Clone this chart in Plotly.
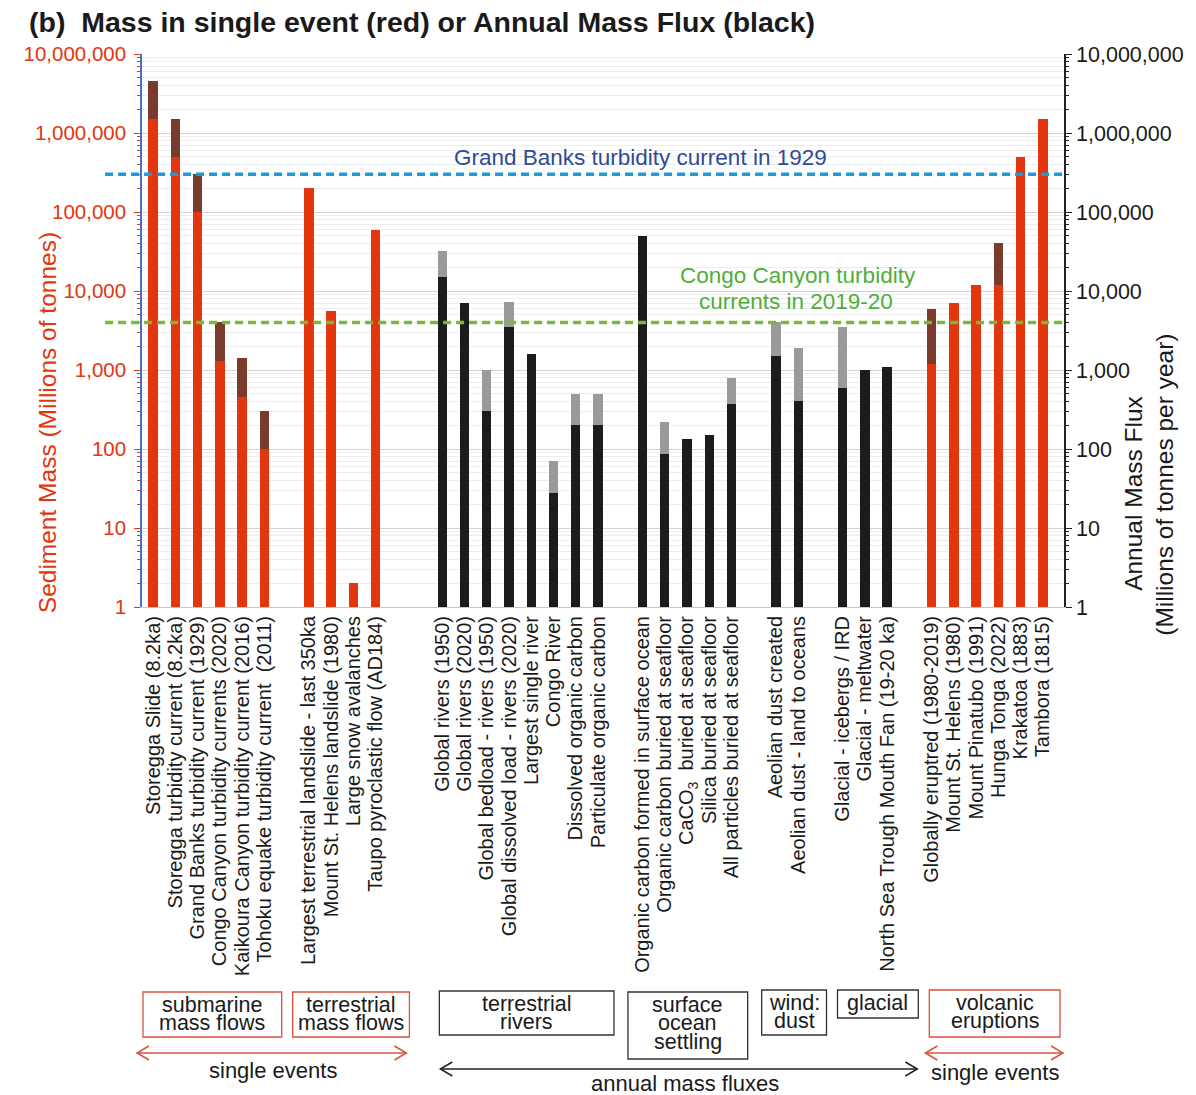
import plotly.graph_objects as go

# ---- data (millions of tonnes, or millions of tonnes per year) ----
submarine_labels = ["Storegga Slide (8.2ka)", "Storegga turbidity current (8.2ka)",
                    "Grand Banks turbidity current (1929)", "Congo Canyon turbidity currents (2020)",
                    "Kaikoura Canyon turbidity current (2016)", "Tohoku equake turbidity current  (2011)"]
submarine_low = [1.5e6, 5.0e5, 1.0e5, 1300, 450, 100]
submarine_high = [4.5e6, 1.5e6, 3.0e5, 4000, 1400, 300]

terrestrial_labels = ["Largest terrestrial landslide - last 350ka", "Mount St. Helens landslide (1980)",
                      "Large snow avalanches", "Taupo pyroclastic flow (AD184)"]
terrestrial_low = [2.0e5, 5600, 2, 6.0e4]
terrestrial_high = [2.0e5, 5600, 2, 6.0e4]

river_labels = ["Global rivers (1950)", "Global rivers (2020)", "Global bedload - rivers (1950)",
                "Global dissolved load - rivers (2020)", "Largest single river", "Congo River",
                "Dissolved organic carbon", "Particulate organic carbon"]
river_low = [15000, 7000, 300, 3500, 1600, 28, 200, 200]
river_high = [32000, 7000, 1000, 7200, 1600, 70, 500, 500]

ocean_labels = ["Organic carbon formed in surface ocean", "Organic carbon buried at seafloor",
                "CaCO<sub>3</sub>  buried at seafloor", "Silica buried at seafloor",
                "All particles buried at seafloor"]
ocean_low = [50000, 87, 135, 150, 370]
ocean_high = [50000, 220, 135, 150, 790]

dust_labels = ["Aeolian dust created", "Aeolian dust - land to oceans"]
dust_low = [1500, 400]
dust_high = [4000, 1900]

glacial_labels = ["Glacial - icebergs / IRD", "Glacial - meltwater", "North Sea Trough Mouth Fan (19-20 ka)"]
glacial_low = [600, 1000, 1100]
glacial_high = [3500, 1000, 1100]

volcanic_labels = ["Globally eruptred (1980-2019)", "Mount St. Helens (1980)", "Mount Pinatubo (1991)",
                   "Hunga Tonga (2022)", "Krakatoa (1883)", "Tambora (1815)"]
volcanic_low = [1200, 7000, 12000, 12000, 5.0e5, 1.5e6]
volcanic_high = [6000, 7000, 12000, 40000, 5.0e5, 1.5e6]

grand_banks_1929 = 3.0e5
congo_canyon_2019_20 = 4000

# groups in display order: (labels, low, high, kind, empty slots before next group)
groups = [
    (submarine_labels, submarine_low, submarine_high, "event", 1),
    (terrestrial_labels, terrestrial_low, terrestrial_high, "event", 2),
    (river_labels, river_low, river_high, "flux", 1),
    (ocean_labels, ocean_low, ocean_high, "flux", 1),
    (dust_labels, dust_low, dust_high, "flux", 1),
    (glacial_labels, glacial_low, glacial_high, "flux", 1),
    (volcanic_labels, volcanic_low, volcanic_high, "event", 0),
]

RED = "#e3360f"
BROWN = "#7a3a2c"
BLACK = "#1c1c1c"
GREY = "#9a9a9a"
BOXRED = "#d9533f"
FONT = "Liberation Sans, Arial, sans-serif"

pos, ticktext = [], []
ev_x, ev_lo, ev_hi, fx_x, fx_lo, fx_hi = [], [], [], [], [], []
i = 0
for labels, lo, hi, kind, gap in groups:
    for lab, a, b in zip(labels, lo, hi):
        pos.append(i)
        ticktext.append(lab)
        if kind == "event":
            ev_x.append(i); ev_lo.append(a); ev_hi.append(b)
        else:
            fx_x.append(i); fx_lo.append(a); fx_hi.append(b)
        i += 1
    i += gap

W, H = 1196, 1095
L, R, T, B = 142, 130, 54, 488
PW, PH = W - L - R, H - T - B


def px(x):
    return (x - L) / PW


def py(y):
    return (T + PH - y) / PH


BW = 0.42
fig = go.Figure()
fig.add_trace(go.Bar(x=ev_x, y=ev_hi, marker_color=BROWN, width=BW, yaxis="y", showlegend=False))
fig.add_trace(go.Bar(x=ev_x, y=ev_lo, marker_color=RED, width=BW, yaxis="y", showlegend=False))
fig.add_trace(go.Bar(x=fx_x, y=fx_hi, marker_color=GREY, width=BW, yaxis="y2", showlegend=False))
fig.add_trace(go.Bar(x=fx_x, y=fx_lo, marker_color=BLACK, width=BW, yaxis="y2", showlegend=False))

for t in fig.data:
    t.marker.line.width = 0

shapes = []
# reference levels
shapes.append(dict(type="line", xref="paper", yref="y", x0=px(105), x1=1, y0=grand_banks_1929,
                   y1=grand_banks_1929, line=dict(color="#1f9ad6", width=3.5, dash="8px,5px")))
shapes.append(dict(type="line", xref="paper", yref="y", x0=px(105), x1=1, y0=congo_canyon_2019_20,
                   y1=congo_canyon_2019_20, line=dict(color="#7ab83a", width=3.5, dash="8px,5px")))

annotations = []


def text(x, y, s, size, color="#1a1a1a", **kw):
    annotations.append(dict(xref="paper", yref="paper", x=px(x), y=py(y), text=s, showarrow=False,
                            font=dict(family=FONT, size=size, color=color),
                            xanchor=kw.pop("xanchor", "center"), yanchor=kw.pop("yanchor", "middle"), **kw))


text(27, 22, "<b>(b)\u00a0\u00a0Mass in single event (red) or Annual Mass Flux (black)</b>", 28.5,
     xanchor="left")
text(642, 157, "Grand Banks turbidity current in 1929", 22.5, color="#2f4a96")
text(799, 275, "Congo Canyon turbidity", 22.5, color="#4fae3a")
text(797, 301, "currents in 2019-20", 22.5, color="#4fae3a")
text(48, 423, "Sediment Mass (Millions of tonnes)", 24.5, color=RED, textangle=-90)
text(1136, 493, "Annual Mass Flux", 24.5, textangle=-90)
text(1166, 485, "(Millions of tonnes per year)", 24.5, textangle=-90)

# category boxes beneath the labels
boxes = [
    (143, 282, 992, 1037, BOXRED, ["submarine", "mass flows"]),
    (293, 410, 992, 1037, BOXRED, ["terrestrial", "mass flows"]),
    (440, 615, 991, 1035, "#333333", ["terrestrial", "rivers"]),
    (629, 749, 992, 1059, "#333333", ["surface", "ocean", "settling"]),
    (763, 828, 990, 1035, "#333333", ["wind:", "dust"]),
    (839, 920, 990, 1018, "#333333", ["glacial"]),
    (931, 1062, 990, 1037, BOXRED, ["volcanic", "eruptions"]),
]
for x0, x1, y0, y1, col, lines in boxes:
    shapes.append(dict(type="rect", xref="paper", yref="paper", x0=px(x0), x1=px(x1), y0=py(y0), y1=py(y1),
                       line=dict(color=col, width=1.3)))
    cx = (x0 + x1) / 2
    for k, s in enumerate(lines):
        text(cx, y0 + 12.5 + 18.8 * k, s, 21.5)


def arrow(x0, x1, y, col):
    shapes.append(dict(type="line", xref="paper", yref="paper", x0=px(x0), x1=px(x1), y0=py(y), y1=py(y),
                       line=dict(color=col, width=1.5)))
    for tip, d in ((x0, 1), (x1, -1)):
        path = "M {} {} L {} {} L {} {}".format(px(tip + 12 * d), py(y - 7), px(tip), py(y),
                                                 px(tip + 12 * d), py(y + 7))
        shapes.append(dict(type="path", xref="paper", yref="paper", path=path,
                           line=dict(color=col, width=1.5)))


arrow(137, 407, 1053, BOXRED)
arrow(441, 919, 1069, "#222222")
arrow(927, 1065, 1053, BOXRED)
text(273, 1070, "single events", 22)
text(686, 1083, "annual mass fluxes", 22)
text(997, 1072, "single events", 22)

axis_common = dict(type="log", range=[0, 7], dtick=1, exponentformat="none", separatethousands=True,
                   showgrid=True, gridcolor="#d2d2d2", gridwidth=1, zeroline=False,
                   ticks="outside", ticklen=6, showline=True, linewidth=1.5,
                   minor=dict(dtick="D1", showgrid=True, gridcolor="#ededed", ticks="outside", ticklen=3))

fig.update_layout(
    width=W, height=H,
    margin=dict(l=L, r=R, t=T, b=B, pad=0),
    paper_bgcolor="white", plot_bgcolor="white",
    barmode="overlay", bargap=0,
    font=dict(family=FONT, color="#1a1a1a"),
    showlegend=False,
    xaxis=dict(range=[-0.5, 40.95], tickmode="array", tickvals=pos, ticktext=ticktext, tickangle=-90,
               tickfont=dict(size=20, color="#1a1a1a"), showgrid=False, zeroline=False, ticks="",
               showline=True, linecolor="#c8c8c8", linewidth=1, fixedrange=True),
    yaxis=dict(**axis_common, side="left", linecolor="#4a6fc8", tickcolor=RED,
               tickfont=dict(size=20.5, color=RED), ticklabelstandoff=4),
    yaxis2=dict(**axis_common, side="right", overlaying="y", linecolor="#222222", tickcolor="#222222",
                tickfont=dict(size=21.5, color="#1a1a1a")),
    shapes=shapes,
    annotations=annotations,
)
fig.layout.yaxis.minor.tickcolor = RED
fig.layout.yaxis2.minor.tickcolor = "#222222"
fig.layout.yaxis2.showgrid = False
fig.layout.yaxis2.minor.showgrid = False

fig.write_html("out.html")
